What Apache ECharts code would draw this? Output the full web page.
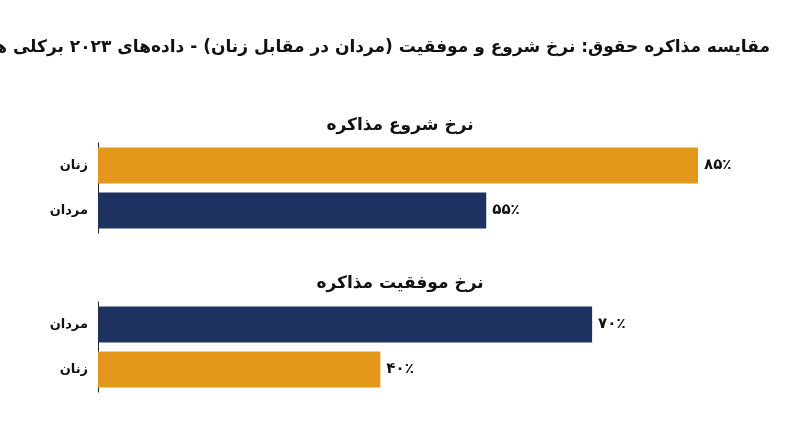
<!DOCTYPE html>
<html><head><meta charset="utf-8">
<script src="https://cdn.jsdelivr.net/npm/echarts@6/dist/echarts.min.js"></script>
<style>html,body{margin:0;background:#fff}#c{width:800px;height:447px}</style>
</head><body><div id="c"></div>
<script>
const titleText = 'مقایسه مذاکره حقوق: نرخ شروع و موفقیت (مردان در مقابل زنان) - داده‌های ۲۰۲۳ برکلی هاس';
const panel1Title = 'نرخ شروع مذاکره';
const panel2Title = 'نرخ موفقیت مذاکره';
const cats1 = ['زنان', 'مردان'];
const vals1 = [85, 55];
const cats2 = ['مردان', 'زنان'];
const vals2 = [70, 40];
const orange = '#E3981C', navy = '#1E3262';
const colorOf = c => c === 'زنان' ? orange : navy;
const fa = n => String(n).replace(/\d/g, d => '۰۱۲۳۴۵۶۷۸۹'[d]) + '٪';
const font = 'DejaVu Sans';
function grid(top){ return {left:98, top:top, height:90, width:600}; }
function xAx(i){ return {gridIndex:i, type:'value', min:0, max:85, show:false}; }
function yAx(i, cats){ return {gridIndex:i, type:'category', data:cats, inverse:true,
  axisLine:{show:true, lineStyle:{color:'#222'}}, axisTick:{show:false},
  axisLabel:{color:'#111', fontSize:13, fontWeight:'bold', fontFamily:font, margin:10}}; }
function ser(i, cats, vals){ return {type:'bar', xAxisIndex:i, yAxisIndex:i, barWidth:36,
  data: vals.map((v,k)=>({value:v, itemStyle:{color:colorOf(cats[k])}})),
  label:{show:true, position:'right', formatter:p=>fa(p.value), color:'#111', fontSize:15, fontWeight:'bold', fontFamily:font, distance:6}}; }
const chart = echarts.init(document.getElementById('c'));
chart.setOption({
  animation:false,
  textStyle:{fontFamily:font},
  title:[
    {text:titleText, right:25, top:34, textStyle:{fontSize:17, fontWeight:'bold', color:'#111', fontFamily:font}},
    {text:panel1Title, left:'center', top:112, textStyle:{fontSize:17, fontWeight:'bold', color:'#111', fontFamily:font}},
    {text:panel2Title, left:'center', top:270, textStyle:{fontSize:17, fontWeight:'bold', color:'#111', fontFamily:font}}
  ],
  grid:[grid(143), grid(302)],
  xAxis:[xAx(0), xAx(1)],
  yAxis:[yAx(0,cats1), yAx(1,cats2)],
  series:[ser(0,cats1,vals1), ser(1,cats2,vals2)]
});
</script></body></html>
